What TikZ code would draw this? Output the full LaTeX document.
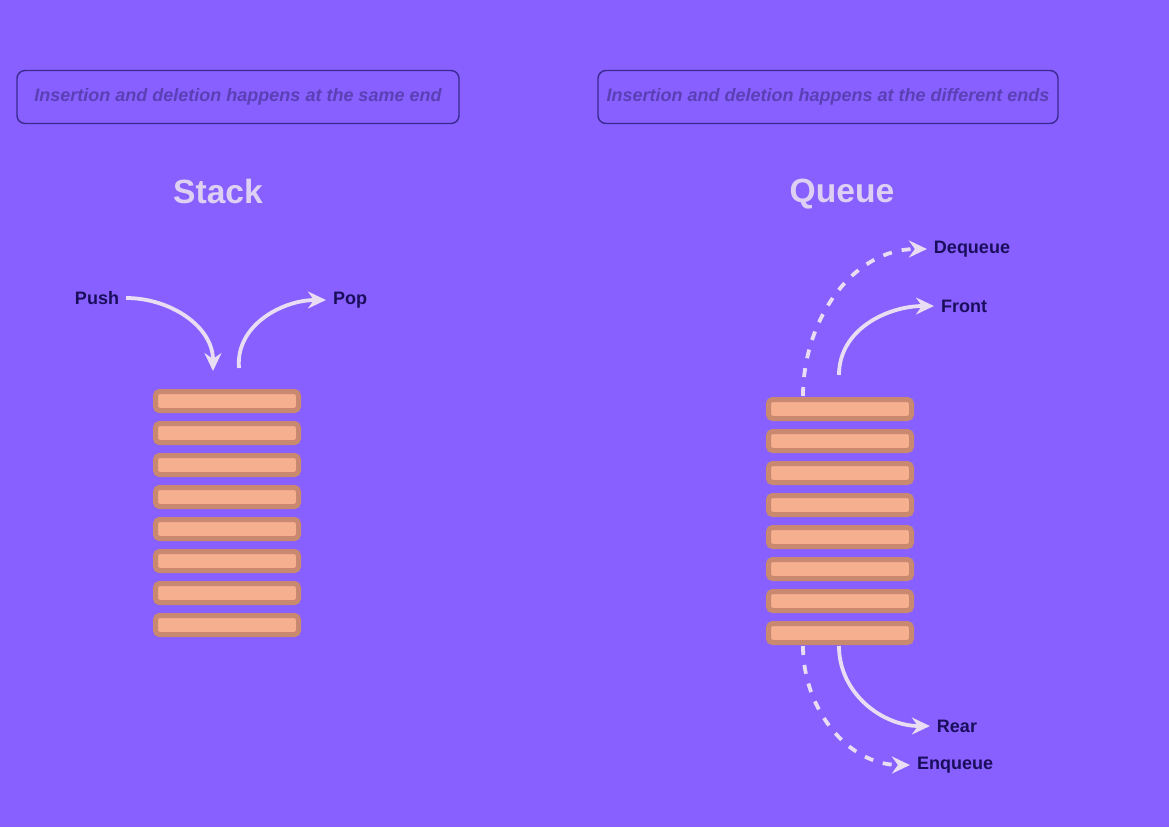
\documentclass[tikz,border=0pt]{standalone}
\usepackage{fontspec}
\setmainfont{Liberation Sans}
\usetikzlibrary{arrows.meta,positioning}
\definecolor{bgviolet}{HTML}{8760FF}
\definecolor{barline}{HTML}{C98870}
\definecolor{barfill}{HTML}{F6AF8F}
\definecolor{titletext}{HTML}{DDD0F3}
\definecolor{flowline}{HTML}{E9DDF3}
\definecolor{tagtext}{HTML}{1A0E5C}
\definecolor{notetext}{HTML}{5B40B5}
\definecolor{noteline}{HTML}{3A2A90}

\begin{document}
\begin{tikzpicture}[x=0.5pt,y=-0.5pt,>={Stealth[length=9pt,width=8.5pt,inset=3pt]},node distance=16pt,
    bar node/.style={draw=barline,fill=barfill,line width=2.5pt,rounded corners=2pt,
      minimum width=71.5pt,minimum height=9.5pt,inner sep=0pt},
    note node/.style={draw=noteline,line width=0.7pt,rounded corners=4pt,minimum height=26.5pt,
      font=\fontsize{9}{10}\selectfont\bfseries\itshape,text=notetext},
    title node/.style={font=\fontsize{16.8}{20}\selectfont\bfseries,text=titletext},
    tag node/.style={font=\fontsize{9}{11}\selectfont\bfseries,text=tagtext},
    flow/.style={->,draw=flowline,line width=1.9pt},
    flow dashed/.style={flow,dash pattern=on 4.5pt off 5pt}]
    \fill[bgviolet] (0,0) rectangle (1169,827);
    \useasboundingbox (0,0) rectangle (1169,827);

    % notes and titles
    \node[note node,minimum width=221pt] (same) at (238,97) {Insertion and deletion happens at the same end};
    \node[note node,minimum width=230pt] (diff) at (828,97) {Insertion and deletion happens at the different ends};
    \node[title node] (stack) at (218,191) {Stack};
    \node[title node] (queue) at (842,194) {Queue};

    % stack
    \node[bar node] (s1) at (227,401) {};
    \node[bar node] (s2) [below of=s1] {};
    \node[bar node] (s3) [below of=s2] {};
    \node[bar node] (s4) [below of=s3] {};
    \node[bar node] (s5) [below of=s4] {};
    \node[bar node] (s6) [below of=s5] {};
    \node[bar node] (s7) [below of=s6] {};
    \node[bar node] (s8) [below of=s7] {};
    \node[tag node] (push) at (97,298) {Push};
    \node[tag node] (pop) at (350,300) {Pop};
    \coordinate (pushEnd) at (213,371);
    \coordinate (popStart) at (239,368);
    \draw[flow] (push) to[out=0,in=90] (pushEnd);
    \draw[flow] (popStart) to[out=95,in=180] (pop);

    % queue
    \node[bar node] (q1) at (840,409) {};
    \node[bar node] (q2) [below of=q1] {};
    \node[bar node] (q3) [below of=q2] {};
    \node[bar node] (q4) [below of=q3] {};
    \node[bar node] (q5) [below of=q4] {};
    \node[bar node] (q6) [below of=q5] {};
    \node[bar node] (q7) [below of=q6] {};
    \node[bar node] (q8) [below of=q7] {};
    \node[tag node] (dequeue) at (972,249) {Dequeue};
    \node[tag node] (front) at (964,306) {Front};
    \node[tag node] (rear) at (957,726) {Rear};
    \node[tag node] (enqueue) at (955,765) {Enqueue};
    \coordinate (deqStart) at (803,396);
    \coordinate (frontStart) at (839,375);
    \coordinate (rearStart) at (839,646);
    \coordinate (enqStart) at (803,646);
    \draw[flow dashed] (deqStart) to[out=90,in=180] (dequeue);
    \draw[flow] (frontStart) to[out=90,in=180] (front);
    \draw[flow] (rearStart) to[out=-90,in=180] (rear);
    \draw[flow dashed] (enqStart) to[out=-90,in=180] (enqueue);
\end{tikzpicture}
\end{document}
